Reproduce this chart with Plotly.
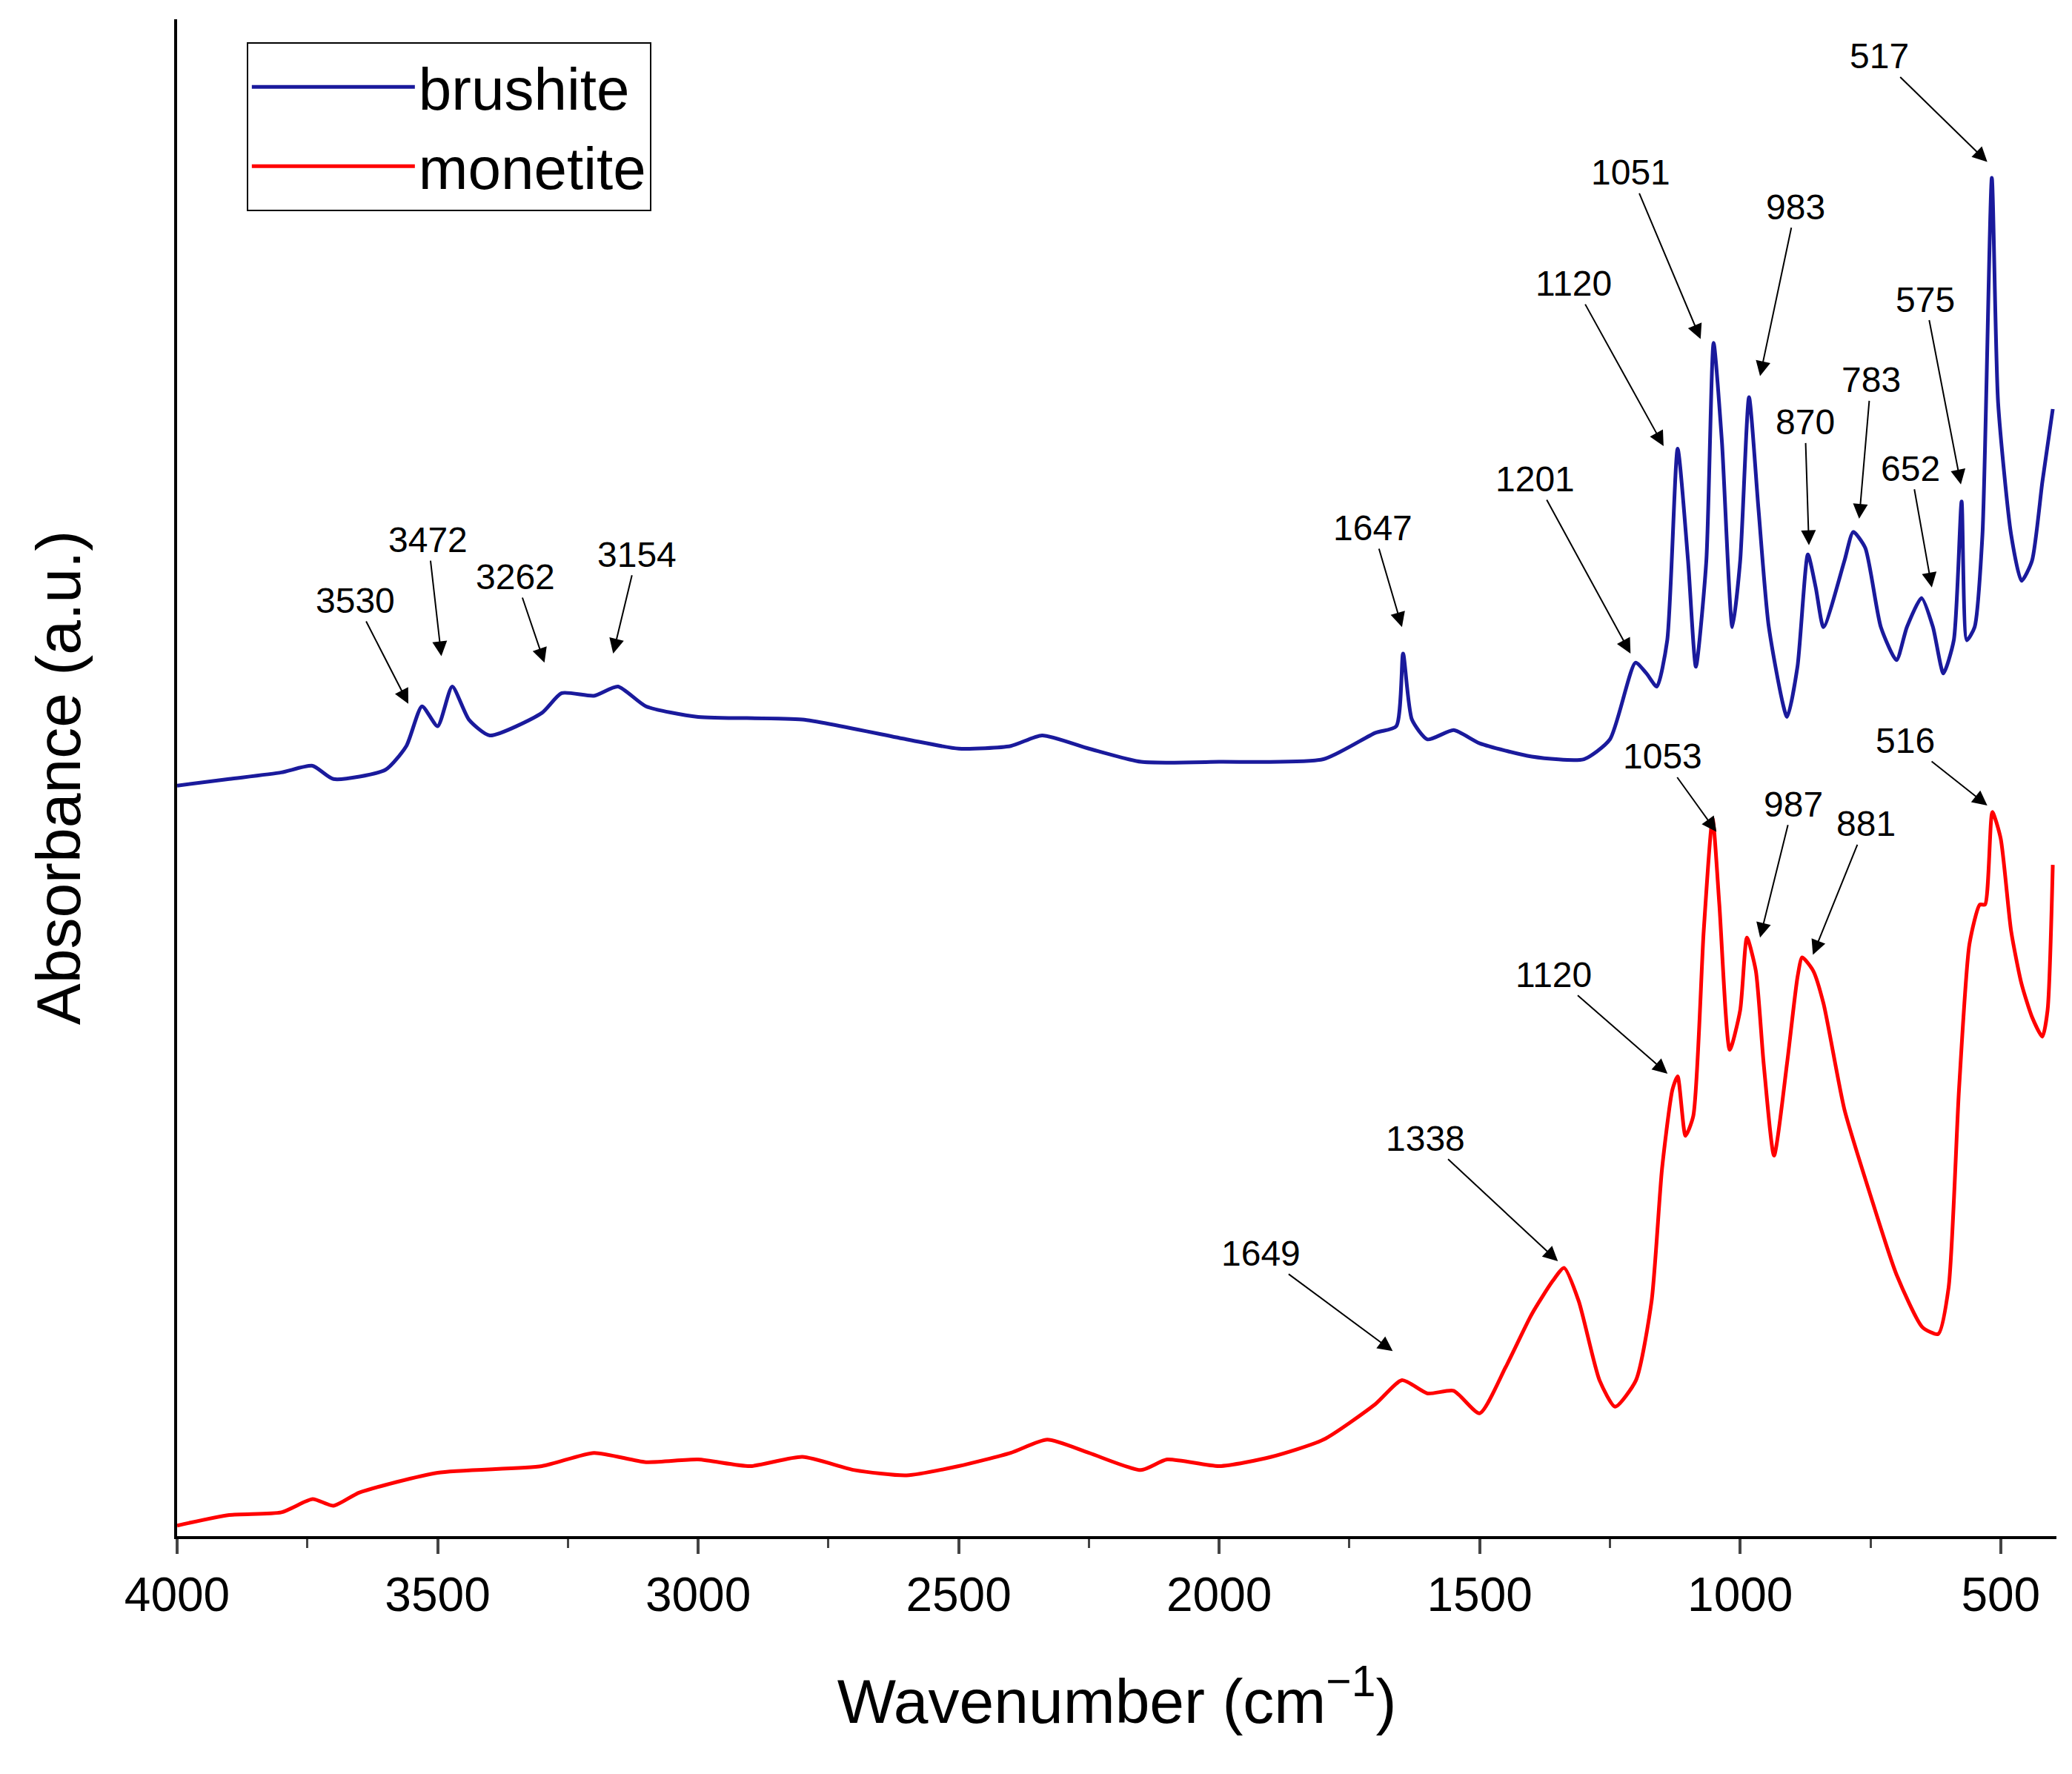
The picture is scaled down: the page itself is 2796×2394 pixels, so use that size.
import plotly.graph_objects as go

# brushite spectrum (wavenumber, absorbance a.u.)
bru_x = [4000,3900,3800,3740,3700,3600,3560,3530,3500,3472,3440,3400,3300,3262,3200,3154,3100,3000,2800,2600,2500,2400,2340,2250,2150,2000,1800,1700,1660,1647,1630,1600,1550,1500,1400,1300,1250,1201,1180,1160,1140,1120,1100,1085,1065,1051,1035,1015,1000,983,965,945,910,890,870,855,840,800,783,760,730,700,680,652,630,610,590,575,565,550,535,517,505,480,460,440,420,400]
bru_y = [568,573,578,583,573,580,598,628,613,643,618,606,623,638,636,643,628,620,618,603,596,598,606,596,586,586,588,608,613,668,618,603,610,600,590,588,603,661,653,643,678,823,738,658,738,903,828,688,738,862,778,688,620,658,743,718,688,738,760,748,688,663,688,710,688,653,678,783,678,688,758,1028,858,758,723,738,798,853]
# monetite spectrum
mon_x = [4000,3900,3800,3740,3700,3650,3500,3300,3200,3100,3000,2900,2800,2700,2600,2500,2400,2330,2250,2150,2100,2000,1900,1800,1700,1649,1600,1550,1500,1450,1400,1360,1338,1310,1270,1240,1200,1170,1150,1130,1120,1105,1090,1070,1053,1040,1020,1000,987,970,955,935,910,890,881,860,840,800,750,700,650,620,600,580,560,540,530,516,500,480,460,440,420,410,400]
mon_y = [8,16,18,28,23,33,48,53,63,56,58,53,60,50,46,53,63,73,63,50,58,53,60,73,100,118,108,110,93,128,168,193,203,178,118,98,118,178,278,338,348,303,318,458,543,478,368,398,453,428,358,288,358,423,438,428,403,323,258,198,158,153,188,338,448,478,478,548,528,458,418,393,378,398,508]

# peak labels: (label, text x, text y, arrow head x, arrow head y)
lab_text = ["3530","3472","3262","3154","1647","1201","1120","1051","983","870","783","652","575","517",
            "1649","1338","1120","1053","987","881","516"]
lab_tx = [265,320,386,478,1035,1158,1187,1230,1355,1362,1412,1442,1453,1418,950,1075,1172,1254,1353,1408,1438]
lab_ty = [450,404,432,415,395,358,210,126,152,315,283,350,222,38,944,857,733,568,604,619,556]
lab_hx = [305,330,408,460,1057,1230,1255,1283,1328,1365,1403,1458,1480,1500,1050,1175,1258,1295,1328,1368,1500]
lab_hy = [528,492,497,490,470,490,333,252,280,408,388,440,362,118,1018,950,808,625,705,718,605]

def wn(px):
    return 4000 - (px - 130) * 2.536
def ab(py):
    return 1158 - py

fig = go.Figure()
fig.add_trace(go.Scatter(x=bru_x, y=bru_y, mode="lines", name="brushite",
                         line=dict(color="#1a1a9c", width=5, shape="spline", smoothing=0.6)))
fig.add_trace(go.Scatter(x=mon_x, y=mon_y, mode="lines", name="monetite",
                         line=dict(color="#ff0000", width=5, shape="spline", smoothing=0.6)))

for t, tx, ty, hx, hy in zip(lab_text, lab_tx, lab_ty, lab_hx, lab_hy):
    fig.add_annotation(x=wn(hx), y=ab(hy), ax=wn(tx), ay=ab(ty), axref="x", ayref="y",
                       text=t, showarrow=True, arrowhead=2, arrowsize=2, arrowwidth=2,
                       arrowcolor="black", font=dict(family="Arial, Liberation Sans", size=48, color="black"))

fig.update_layout(
    width=2796, height=2394, paper_bgcolor="white", plot_bgcolor="white",
    margin=dict(l=231, r=29, t=18, b=329),
    font=dict(family="Arial, Liberation Sans", color="black"),
    showlegend=True,
    legend=dict(x=0.037, y=0.985, xanchor="left", yanchor="top", bordercolor="black", borderwidth=2,
                font=dict(size=80), bgcolor="white", itemwidth=220),
    xaxis=dict(range=[4000, 393], showline=True, linecolor="black", linewidth=4,
               ticks="outside", ticklen=20, tickwidth=4, tickvals=[4000,3500,3000,2500,2000,1500,1000,500],
               minor=dict(ticks="outside", ticklen=12, tickwidth=3, dtick=250, tick0=0),
               tickfont=dict(size=64), showgrid=False, zeroline=False,
               title=dict(text="Wavenumber (cm<sup>−1</sup>)", font=dict(size=84), standoff=80)),
    yaxis=dict(range=[0, 1148], showline=True, linecolor="black", linewidth=4, showticklabels=False,
               ticks="", showgrid=False, zeroline=False,
               title=dict(text="Absorbance (a.u.)", font=dict(size=84), standoff=100)),
)
fig.write_html("out.html")
